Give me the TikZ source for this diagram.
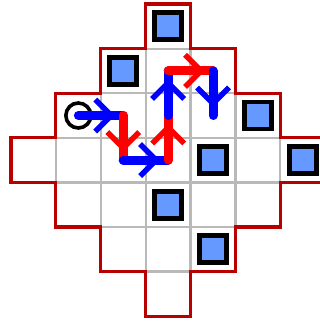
\documentclass[tikz,border=0pt]{standalone}
\usetikzlibrary{decorations.markings}
\definecolor{boxblue}{RGB}{102,153,255}
\definecolor{wallred}{RGB}{185,0,0}
\definecolor{gridgrey}{RGB}{185,185,185}
\begin{document}
\begin{tikzpicture}[x=44.9pt,y=-44.6pt,
  cellbox/.style={draw=gridgrey,line width=2.2pt},
  wall/.style={draw=wallred,line width=3.2pt,line join=miter},
  crate/.style={draw=black,fill=boxblue,line width=4.8pt,minimum size=27pt,inner sep=0pt,shape=rectangle},
  startmark/.style={draw=black,line width=3.6pt,circle,minimum size=25pt,inner sep=0pt},
  move/.style={draw=#1,line width=9pt,line cap=round,
    postaction={decorate,decoration={markings,
      mark=at position -12pt with {\draw[#1,line width=5.5pt,line cap=butt,line join=round] (-16pt,16pt) -- (0pt,0pt) -- (-16pt,-16pt);}}}}
]
\useasboundingbox (-0.245,-0.0897) rectangle (6.882,7.175);
% grid cells
\foreach \r/\a/\b in {0/3/3,1/2/4,2/1/5,3/0/6,4/1/5,5/2/4,6/3/3}
  \foreach \c in {\a,...,\b}
    \draw[cellbox] (\c,\r) rectangle ++(1,1);
% outer wall
\draw[wall] (3,0) -| (4,1) -| (5,2) -| (6,3) -| (7,4) -| (6,5) -| (5,6) -| (4,7)
  -| (3,6) -| (2,5) -| (1,4) -| (0,3) -| (1,2) -| (2,1) -| (3,0) -- cycle;
% crates
\node[crate] (b1) at (3.5,0.5) {};
\node[crate] (b2) at (2.5,1.5) {};
\node[crate] (b3) at (5.5,2.5) {};
\node[crate] (b4) at (4.5,3.5) {};
\node[crate] (b5) at (6.5,3.5) {};
\node[crate] (b6) at (3.5,4.5) {};
\node[crate] (b7) at (4.5,5.5) {};
% start
\node[startmark] (player) at (1.5,2.5) {};
% path
\coordinate (p0) at (1.5,2.5);
\coordinate (p1) at (2.5,2.5);
\coordinate (p2) at (2.5,3.5);
\coordinate (p3) at (3.5,3.5);
\coordinate (p4) at (3.5,2.5);
\coordinate (p5) at (3.5,1.5);
\coordinate (p6) at (4.5,1.5);
\coordinate (p7) at (4.5,2.5);
\draw[move=blue] (p0) -- (p1);
\draw[move=red] (p1) -- (p2);
\draw[move=blue] (p2) -- (p3);
\draw[move=red] (p3) -- (p4);
\draw[move=blue] (p4) -- (p5);
\draw[move=red] (p5) -- (p6);
\draw[move=blue] (p6) -- (p7);
\end{tikzpicture}
\end{document}
